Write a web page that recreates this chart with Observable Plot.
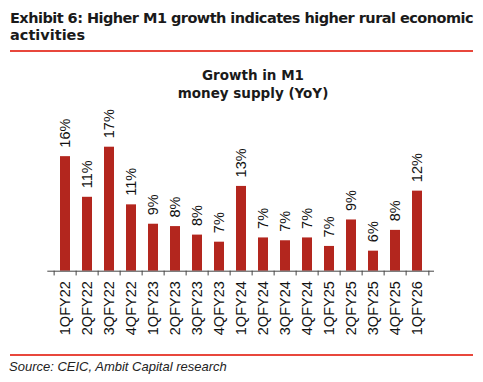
<!DOCTYPE html>
<html>
<head>
<meta charset="utf-8">
<script src="https://cdn.jsdelivr.net/npm/d3@7"></script>
<script src="https://cdn.jsdelivr.net/npm/@observablehq/plot@0.6"></script>
<style>
  html, body { margin: 0; padding: 0; background: #fff; }
  body { width: 483px; height: 382px; position: relative; overflow: hidden; }
  .exh { position: absolute; left: 10px; top: 10px; font-family: "DejaVu Sans", sans-serif; font-weight: bold; font-size: 14.5px; line-height: 17px; color: #1a1a1a; white-space: nowrap; }
  .exh span { display: inline-block; }
  .rule { position: absolute; left: 10px; width: 463px; height: 2px; background: #e8473c; }
  .ctitle { position: absolute; left: 253px; transform: translateX(-50%); top: 66px; text-align: center; font-family: "DejaVu Sans", sans-serif; font-weight: bold; font-size: 13.5px; line-height: 18px; color: #1a1a1a; white-space: nowrap; }
  .src { position: absolute; left: 9px; top: 359px; font-family: "Liberation Sans", Arial, sans-serif; font-style: italic; font-size: 13px; color: #222; white-space: nowrap; }
  #chart { position: absolute; left: 0; top: 0; }
</style>
</head>
<body>
<div id="chart"></div>
<div class="exh"><span id="l1">Exhibit 6: Higher M1 growth indicates higher rural economic</span><br><span>activities</span></div>
<div class="rule" style="top:50px"></div>
<div class="ctitle">Growth in M1<br>money supply (YoY)</div>
<div class="rule" style="top:354px"></div>
<div class="src">Source: CEIC, Ambit Capital research</div>
<script>
const quarters = ["1QFY22","2QFY22","3QFY22","4QFY22","1QFY23","2QFY23","3QFY23","4QFY23","1QFY24","2QFY24","3QFY24","4QFY24","1QFY25","2QFY25","3QFY25","4QFY25","1QFY26"];
const growth = [16.0, 11.7, 17.0, 10.9, 8.85, 8.6, 7.7, 6.95, 12.85, 7.4, 7.1, 7.4, 6.5, 9.3, 6.0, 8.2, 12.35];
const labels = ["16%","11%","17%","11%","9%","8%","8%","7%","13%","7%","7%","7%","7%","9%","6%","8%","12%"];

// fit the exhibit title's first line to the reference width
(function fitTitle() {
  const el = document.getElementById("l1");
  const w = el.getBoundingClientRect().width;
  const n = el.textContent.length;
  const target = 463;
  el.style.letterSpacing = ((target - w) / n) + "px";
})();

const data = quarters.map((q, i) => ({q, v: growth[i], label: labels[i]}));
const yMin = 3.88;
const W = 483, H = 382;
const mL = 47.3, mR = 49;
const step = (W - mL - mR) / quarters.length;
const tickLen = 0.5; // in data units, ~5px below baseline

const plot = Plot.plot({
  width: W,
  height: H,
  marginLeft: mL,
  marginRight: mR,
  marginTop: 146.7,
  marginBottom: H - 270.7,
  style: {fontFamily: "'Liberation Sans', Arial, sans-serif", background: "transparent"},
  x: {domain: quarters, paddingInner: 0.56, paddingOuter: 0.28, axis: null},
  y: {domain: [yMin, 17], axis: null},
  marks: [
    Plot.barY(data, {x: "q", y1: yMin, y2: "v", fill: "#b3261e"}),
    Plot.ruleY([yMin], {stroke: "#444", strokeWidth: 1}),
    Plot.ruleX(data, {x: "q", y1: yMin, y2: yMin - tickLen, dx: -step / 2, stroke: "#444"}),
    Plot.ruleX(data.slice(-1), {x: "q", y1: yMin, y2: yMin - tickLen, dx: step / 2, stroke: "#444"}),
    Plot.text(data, {x: "q", y: "v", text: "label", rotate: -90, textAnchor: "start", lineAnchor: "middle", dy: -9, fontSize: 14.5, fill: "#111"}),
    Plot.text(data, {x: "q", y: yMin, text: "q", rotate: -90, textAnchor: "end", lineAnchor: "middle", dy: 10, fontSize: 14.5, fill: "#111"})
  ]
});
document.getElementById("chart").appendChild(plot);
</script>
</body>
</html>
